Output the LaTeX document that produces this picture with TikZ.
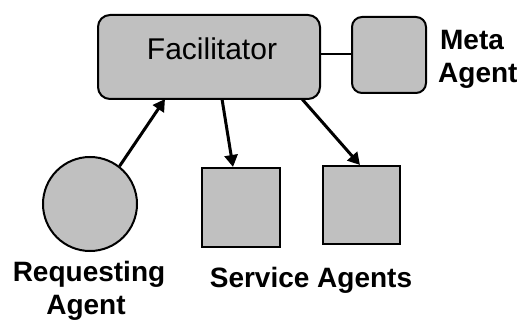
\documentclass[tikz,border=0pt]{standalone}
\usepackage{fontspec}
\setmainfont{Liberation Sans}
\usetikzlibrary{arrows.meta}
\definecolor{agentgray}{RGB}{192,192,192}
\tikzset{
  agentshape/.style={draw=black, fill=agentgray, line width=2pt, inner sep=0pt},
  roundbox/.style={agentshape, rectangle, rounded corners=12pt},
  squarebox/.style={agentshape, rectangle},
  circlebox/.style={agentshape, circle},
  caption/.style={font=\fontsize{28}{28}\selectfont\bfseries, inner sep=0pt, anchor=base},
  link/.style={line width=3pt, -{Triangle[length=12pt,width=13pt]}},
  plainlink/.style={line width=2pt},
}
\begin{document}
\begin{tikzpicture}[x=1pt,y=-1pt]
  \useasboundingbox (0,0) rectangle (530,320);
  % facilitator and meta agent
  \node[roundbox, minimum width=222pt, minimum height=84pt] (fac) at (209,57) {};
  \node[font=\fontsize{30}{30}\selectfont, inner sep=0pt, anchor=base] (factext) at (212,60) {Facilitator};
  \node[roundbox, rounded corners=10pt, minimum width=74pt, minimum height=76pt] (meta) at (389,55) {};
  \draw[plainlink] (fac.east |- 0,54) -- (meta.west |- 0,54);
  % requesting and service agents
  \node[circlebox, minimum size=94pt] (req) at (90,204) {};
  \node[squarebox, minimum width=78pt, minimum height=79pt] (sa1) at (241,207.5) {};
  \node[squarebox, minimum width=77pt, minimum height=78pt] (sa2) at (361.5,205) {};
  % connectors
  \coordinate (in1) at (165,99);
  \coordinate (out1) at (222,99);
  \coordinate (out2) at (302,99);
  \draw[link] (req.52) -- (in1);
  \draw[link] (out1) -- (sa1.north -| 233,0);
  \draw[link] (out2) -- (sa2.north -| 360,0);
  % captions
  \node[caption] (metal1) at (472,50) {Meta};
  \node[caption, anchor=base west] (metal2) at (438,83) {Agent};
  \node[caption] (reql1) at (89,282) {Requesting};
  \node[caption] (reql2) at (86,315) {Agent};
  \node[caption] (saltxt) at (311,288) {Service Agents};
\end{tikzpicture}
\end{document}
